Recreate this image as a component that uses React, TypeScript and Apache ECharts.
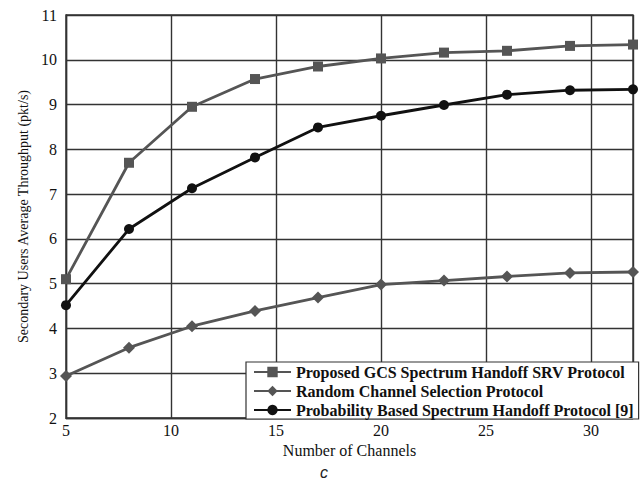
import React, { useEffect, useRef } from "react";
import * as echarts from "echarts";

const channels = [5, 8, 11, 14, 17, 20, 23, 26, 29, 32];
const proposed = [5.1, 7.7, 8.95, 9.57, 9.85, 10.03, 10.16, 10.2, 10.31, 10.34];
const randomSel = [2.94, 3.57, 4.05, 4.39, 4.69, 4.98, 5.07, 5.16, 5.24, 5.26];
const probability = [4.52, 6.22, 7.13, 7.82, 8.49, 8.75, 8.99, 9.22, 9.32, 9.34];
const seriesNames = [
  "Proposed GCS Spectrum Handoff SRV Protocol",
  "Random Channel Selection Protocol",
  "Probability Based Spectrum Handoff Protocol [9]",
];

const FONT = "'Liberation Serif', 'Times New Roman', serif";

export default function App() {
  const ref = useRef<HTMLDivElement>(null);
  useEffect(() => {
    if (!ref.current) return;
    const chart = echarts.init(ref.current, null, { renderer: "svg" });
    const mk = (ys: number[]) => channels.map((x, i) => [x, ys[i]]);
    chart.setOption({
      animation: false,
      backgroundColor: "#fff",
      grid: {
        left: 66,
        right: 7,
        top: 15,
        bottom: 65,
        show: true,
        borderColor: "#333",
        borderWidth: 1.4,
      },
      xAxis: {
        type: "value",
        min: 5,
        max: 32,
        interval: 5,
        name: "Number of Channels",
        nameLocation: "middle",
        nameGap: 20,
        nameTextStyle: { fontFamily: FONT, fontSize: 16, color: "#111" },
        axisLine: { show: true, lineStyle: { color: "#333", width: 1.4 } },
        axisTick: { show: false },
        axisLabel: {
          fontFamily: FONT,
          fontSize: 16,
          color: "#111",
          margin: 4,
          showMaxLabel: false,
        },
        splitLine: { show: true, lineStyle: { color: "#333", width: 1.4 } },
      },
      yAxis: {
        type: "value",
        min: 2,
        max: 11,
        interval: 1,
        name: "Secondary Users Average Throughput (pkt/s)",
        nameLocation: "middle",
        nameGap: 32,
        nameTextStyle: { fontFamily: FONT, fontSize: 14, color: "#111" },
        axisLine: { show: true, lineStyle: { color: "#333", width: 1.4 } },
        axisTick: { show: false },
        axisLabel: { fontFamily: FONT, fontSize: 16, color: "#111", margin: 9 },
        splitLine: { show: true, lineStyle: { color: "#333", width: 1.4 } },
      },
      legend: {
        orient: "vertical",
        left: 246,
        top: 362,
        backgroundColor: "#fff",
        borderColor: "#333",
        borderWidth: 1.2,
        borderRadius: 0,
        padding: [2, 5, 1, 7],
        itemGap: 3,
        itemWidth: 37,
        itemHeight: 13,
        textStyle: {
          fontFamily: FONT,
          fontSize: 16,
          fontWeight: "bold",
          lineHeight: 16,
          color: "#111",
        },
        data: seriesNames,
      },
      series: [
        {
          name: seriesNames[0],
          type: "line",
          data: mk(proposed),
          symbol: "rect",
          symbolSize: 10,
          itemStyle: { color: "#555" },
          lineStyle: { color: "#555", width: 2.8 },
        },
        {
          name: seriesNames[1],
          type: "line",
          data: mk(randomSel),
          symbol: "diamond",
          symbolSize: 12,
          itemStyle: { color: "#555" },
          lineStyle: { color: "#555", width: 2.8 },
        },
        {
          name: seriesNames[2],
          type: "line",
          data: mk(probability),
          symbol: "circle",
          symbolSize: 10,
          itemStyle: { color: "#111" },
          lineStyle: { color: "#111", width: 2.8 },
        },
      ],
      graphic: [
        {
          type: "text",
          left: 320,
          top: 464,
          style: {
            text: "c",
            fontFamily: "'Liberation Sans', Arial, sans-serif",
            fontStyle: "italic",
            fontSize: 16,
            fill: "#222",
          },
        },
      ],
    });
    return () => chart.dispose();
  }, []);
  return <div ref={ref} style={{ width: 640, height: 483, position: "absolute", left: 0, top: 0 }} />;
}
